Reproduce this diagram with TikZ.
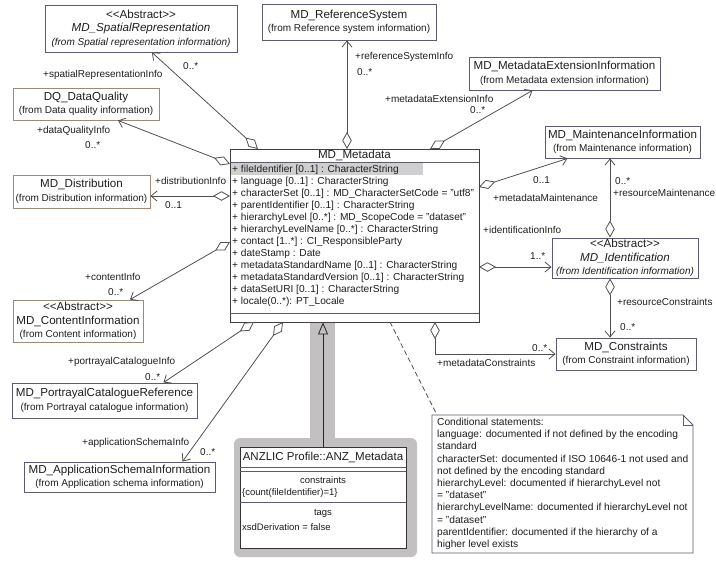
\documentclass[tikz,border=0pt]{standalone}
\usepackage{fontspec}
\setmainfont{Liberation Sans}
\usetikzlibrary{arrows.meta}
\definecolor{boxline}{HTML}{5C5C6E}
\definecolor{tanline}{HTML}{9C8A78}
\definecolor{assocline}{HTML}{505050}
\definecolor{inkc}{HTML}{1E1E1E}
\definecolor{rowhl}{HTML}{CFCFCF}
\definecolor{anzgray}{HTML}{C2C0C0}
\newcommand\clsfont{\fontsize{11.6}{13.5}\selectfont}

\begin{document}
\begin{tikzpicture}[x=1pt,y=-1pt,
  cls/.style={draw=boxline,line width=0.9pt,fill=white,inner sep=0pt,align=center,text=inkc,font=\fontsize{10}{13.5}\selectfont},
  tancls/.style={cls,draw=tanline},
  attr/.style={anchor=base west,inner sep=0pt,text=inkc,font=\fontsize{10.15}{12}\selectfont},
  notetext/.style={anchor=base west,inner sep=0pt,text=inkc,font=\fontsize{10.2}{12}\selectfont},
  role/.style={anchor=west,inner sep=0pt,text=inkc,font=\fontsize{10}{12}\selectfont},
  assoc/.style={draw=assocline,line width=0.8pt,{Diamond[open,length=17pt,width=9.5pt]}-{Straight Barb[length=6pt,width=10pt]}},
  gen/.style={draw=black!85,line width=0.8pt,-{Triangle[open,length=12pt,width=10pt]}}]
 \useasboundingbox (0,0) rectangle (716,563);

 % profile highlight
 \fill[anzgray,rounded corners=6pt] (234,438) rectangle (417,557);
 \fill[anzgray] (310,322) rectangle (335,438);

 % MD_Metadata
 \node[draw=black!75,line width=0.9pt,fill=white,minimum width=249pt,minimum height=173pt,inner sep=0pt] (md) at (354.5,235.5) {};
 \fill[rowhl] (231,163) rectangle (423,175);
 \draw[boxline,line width=0.8pt] (230,162) -- (479,162);
 \draw[boxline,line width=0.8pt] (230,313) -- (479,313);
 \node[font=\clsfont,text=inkc] (md-title) at (354.5,155) {MD\_Metadata};
 \foreach \attr [count=\i from 0] in {%
   {+ fileIdentifier [0..1] : CharacterString},
   {+ language [0..1] : CharacterString},
   {+ characterSet [0..1] : MD\_CharacterSetCode = "utf8"},
   {+ parentIdentifier [0..1] : CharacterString},
   {+ hierarchyLevel [0..*] : MD\_ScopeCode = "dataset"},
   {+ hierarchyLevelName [0..*] : CharacterString},
   {+ contact [1..*] : CI\_ResponsibleParty},
   {+ dateStamp : Date},
   {+ metadataStandardName [0..1] : CharacterString},
   {+ metadataStandardVersion [0..1] : CharacterString},
   {+ dataSetURI [0..1] : CharacterString},
   {+ locale(0..*): PT\_Locale}}
   \node[attr] (md-a\i) at (232,172.5+12*\i) {\attr};

 % classes
 \node[cls,minimum width=192pt,minimum height=47pt] (spatial) at (141,28.5)
   {{\clsfont <\kern0pt<Abstract>\kern0pt>}\\{\clsfont\itshape MD\_SpatialRepresentation}\\\textit{(from Spatial representation information)}};
 \node[cls,minimum width=174pt,minimum height=36pt] (refsys) at (349,22)
   {{\clsfont MD\_ReferenceSystem}\\(from Reference system information)};
 \node[cls,minimum width=191pt,minimum height=33pt] (ext) at (564.5,73.5)
   {{\clsfont MD\_MetadataExtensionInformation}\\(from Metadata extension information)};
 \node[cls,minimum width=155pt,minimum height=32pt] (maint) at (622.5,142)
   {{\clsfont MD\_MaintenanceInformation}\\(from Maintenance information)};
 \node[tancls,minimum width=146pt,minimum height=32pt] (dq) at (86,104)
   {{\clsfont DQ\_DataQuality}\\(from Data quality information)};
 \node[tancls,minimum width=137pt,minimum height=33pt] (distr) at (81.5,191.5)
   {{\clsfont MD\_Distribution}\\(from Distribution information)};
 \node[tancls,minimum width=130pt,minimum height=42pt] (content) at (78,321)
   {{\clsfont <\kern0pt<Abstract>\kern0pt>}\\{\clsfont MD\_ContentInformation}\\(from Content information)};
 \node[cls,minimum width=185pt,minimum height=35pt] (portrayal) at (104.5,400.5)
   {{\clsfont MD\_PortrayalCatalogueReference}\\(from Portrayal catalogue information)};
 \node[cls,minimum width=191pt,minimum height=30pt] (appschema) at (119.5,477)
   {{\clsfont MD\_ApplicationSchemaInformation}\\(from Application schema information)};
 \node[cls,minimum width=146pt,minimum height=40pt] (ident) at (625,258)
   {{\clsfont <\kern0pt<Abstract>\kern0pt>}\\{\clsfont\itshape MD\_Identification}\\\textit{(from Identification information)}};
 \node[cls,minimum width=140pt,minimum height=32pt] (constr) at (626,354)
   {{\clsfont MD\_Constraints}\\(from Constraint information)};

 % ends on MD_Metadata
 \coordinate (md-sp) at (258,149);
 \coordinate (md-dq) at (230,164);
 \coordinate (md-di) at (230,196);
 \coordinate (md-ci) at (230,242);
 \coordinate (md-pc) at (254,322);
 \coordinate (md-as) at (283,322);
 \coordinate (md-rs) at (347,149);
 \coordinate (md-me) at (430,149);
 \coordinate (md-mm) at (479,187);
 \coordinate (md-ii) at (479,267);
 \coordinate (md-mc) at (435,322);
 \coordinate (md-nt) at (390,322);
 \coordinate (id-rm) at ([xshift=-15pt]ident.north);
 \coordinate (id-rc) at ([xshift=-15pt]ident.south);

 \draw[assoc] (md-sp) -- ([xshift=11pt]spatial.south);
 \draw[assoc] (md-dq) -- ([xshift=32pt]dq.south);
 \draw[assoc] (md-di) -- (distr.east |- md-di);
 \draw[assoc] (md-ci) -- ([xshift=52pt]content.north);
 \draw[assoc] (md-pc) -- ([xshift=59pt]portrayal.north);
 \draw[assoc] (md-as) -- ([xshift=63pt]appschema.north);
 \draw[assoc] (md-rs) -- (refsys.south -| md-rs);
 \draw[assoc] (md-me) -- ([xshift=-32pt]ext.south);
 \draw[assoc] (md-mm) -- ([xshift=-55pt]maint.south);
 \draw[assoc] (id-rm) -- (maint.south -| id-rm);
 \draw[assoc] (md-ii) -- (ident.west |- md-ii);
 \draw[assoc] (id-rc) -- (constr.north -| id-rc);
 \draw[assoc] (md-mc) |- (constr.west);

 % roles and multiplicities
 \node[role] (r-sp) at (43,75) {+spatialRepresentationInfo};
 \node[role] (m-sp) at (183,66) {0..*};
 \node[role] (r-dq) at (37,131) {+dataQualityInfo};
 \node[role] (m-dq) at (85,145) {0..*};
 \node[role] (r-di) at (155,181) {+distributionInfo};
 \node[role] (m-di) at (165,205) {0..1};
 \node[role] (r-ci) at (85,277) {+contentInfo};
 \node[role] (m-ci) at (108,292) {0..*};
 \node[role] (r-pc) at (68,362) {+portrayalCatalogueInfo};
 \node[role] (m-pc) at (145,377) {0..*};
 \node[role] (r-as) at (82,443) {+applicationSchemaInfo};
 \node[role] (m-as) at (200,452) {0..*};
 \node[role] (r-rs) at (355,57) {+referenceSystemInfo};
 \node[role] (m-rs) at (357,72) {0..*};
 \node[role] (r-me) at (385,99) {+metadataExtensionInfo};
 \node[role] (m-me) at (470,110) {0..*};
 \node[role] (r-mm) at (493,198) {+metadataMaintenance};
 \node[role] (m-mm) at (533,180) {0..1};
 \node[role] (r-rm) at (613,193) {+resourceMaintenance};
 \node[role] (m-rm) at (615,181) {0..*};
 \node[role] (r-ii) at (483,230) {+identificationInfo};
 \node[role] (m-ii) at (530,256) {1..*};
 \node[role] (r-rc) at (617,302) {+resourceConstraints};
 \node[role] (m-rc) at (620,327) {0..*};
 \node[role] (r-mc) at (437,363) {+metadataConstraints};
 \node[role] (m-mc) at (532,348) {0..*};

 % ANZ profile class
 \node[draw=black!80,line width=0.8pt,fill=white,minimum width=166pt,minimum height=101pt,inner sep=0pt] (anz) at (323,497.5) {};
 \draw[gen] (anz.north) -- (anz.north |- md.south);
 \node[font=\fontsize{11.5}{13}\selectfont,text=inkc] (anz-title) at (323,457) {ANZLIC Profile::ANZ\_Metadata};
 \draw[boxline,line width=0.8pt] (240,467) -- (406,467);
 \draw[boxline,line width=0.8pt] (240,471) -- (406,471);
 \node[font=\fontsize{9.5}{11}\selectfont,text=inkc] (anz-c) at (323,480) {constraints};
 \node[anchor=west,inner sep=0pt,font=\fontsize{9.5}{11}\selectfont,text=inkc] (anz-cv) at (242,493) {\{count(fileIdentifier)=1\}};
 \draw[boxline,line width=0.8pt] (240,502) -- (406,502);
 \node[font=\fontsize{9.5}{11}\selectfont,text=inkc] (anz-t) at (323,513) {tags};
 \node[anchor=west,inner sep=0pt,font=\fontsize{9.5}{11}\selectfont,text=inkc] (anz-tv) at (242,527) {xsdDerivation = false};

 % note
 \coordinate (note-nw) at (432,415);
 \coordinate (note-se) at (693,553);
 \draw[boxline,line width=0.8pt,fill=white] (note-nw) -- (683,415) -- (693,425) -- (note-se) -- (432,553) -- cycle;
 \draw[boxline,line width=0.6pt] (683,415) -- (683,425) -- (693,425);
 \draw[assocline,line width=0.8pt,dash pattern=on 5pt off 3pt] (md-nt) -- ([xshift=5pt]note-nw);
 \foreach \ln [count=\i] in {%
   {Conditional statements:},
   {language: documented if not defined by the encoding},
   {standard},
   {characterSet: documented if ISO 10646-1 not used and},
   {not defined by the encoding standard},
   {hierarchyLevel: documented if hierarchyLevel not},
   {= "dataset"},
   {hierarchyLevelName: documented if hierarchyLevel not},
   {= "dataset"},
   {parentIdentifier: documented if the hierarchy of a},
   {higher level exists}}
   \node[notetext] (note-\i) at (437,413.3+12.2*\i) {\ln};
\end{tikzpicture}
\end{document}
